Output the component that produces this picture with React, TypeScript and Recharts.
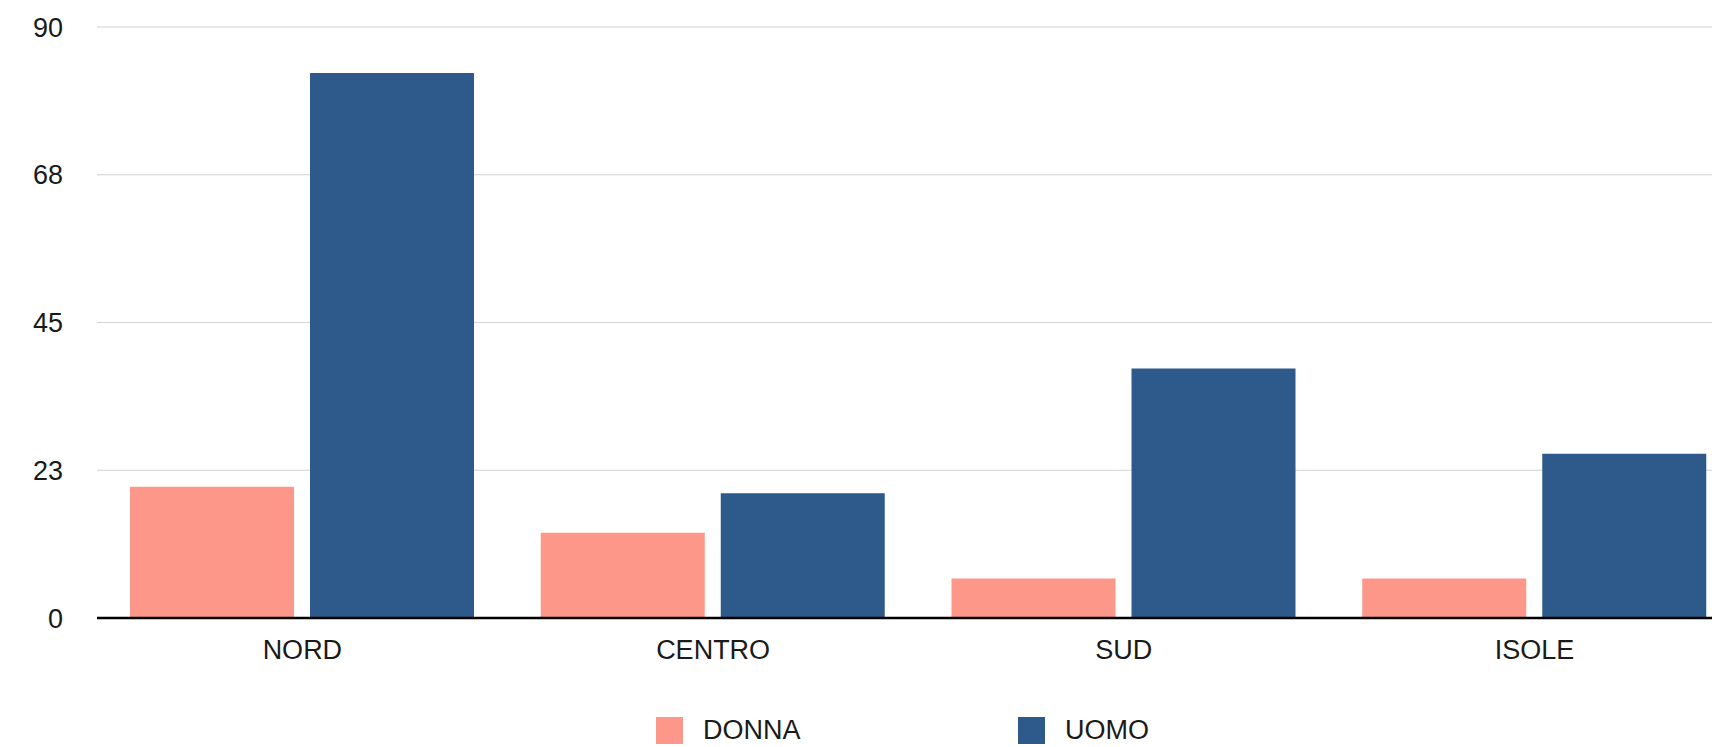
import React from 'react';
import { BarChart, Bar, XAxis, YAxis, CartesianGrid, Legend } from 'recharts';

// Regions on the category axis
const regions = ['NORD', 'CENTRO', 'SUD', 'ISOLE'];
// Values per series, one per region
const donna = [20, 13, 6, 6];
const uomo = [83, 19, 38, 25];
// Value axis ticks
const yTicks = [0, 22.5, 45, 67.5, 90];

const seriesNames = ['DONNA', 'UOMO'];
const seriesColors = ['#FC978A', '#2E5A8B'];

const data = regions.map((r, i) => ({ region: r, DONNA: donna[i], UOMO: uomo[i] }));

const FONT = '"Liberation Sans", Arial, Helvetica, sans-serif';
const TEXT = '#1a1a1a';

const renderLegend = () => (
  <div
    style={{
      display: 'flex',
      alignItems: 'center',
      paddingLeft: 656,
      height: 27,
      fontFamily: FONT,
      fontSize: 27,
      lineHeight: '27px',
      color: TEXT,
    }}
  >
    {seriesNames.map((name, i) => (
      <div key={name} style={{ display: 'flex', alignItems: 'center', width: 362 }}>
        <div style={{ width: 27, height: 27, background: seriesColors[i] }} />
        <span style={{ marginLeft: 20 }}>{name}</span>
      </div>
    ))}
  </div>
);

export default function App() {
  return (
    <div
      style={{
        position: 'absolute',
        left: 0,
        top: 0,
        width: 1712,
        height: 747,
        overflow: 'hidden',
        background: '#ffffff',
      }}
    >
      <BarChart
        width={1740}
        height={747}
        data={data}
        margin={{ top: 27, right: 0, bottom: 99, left: 0 }}
        barSize={164}
        barGap={16}
      >
        <CartesianGrid vertical={false} stroke="#d2d2d2" strokeWidth={1.2} />
        <XAxis
          dataKey="region"
          height={30}
          axisLine={{ stroke: '#000000', strokeWidth: 2.5 }}
          tickLine={false}
          tickSize={0}
          tickMargin={22}
          tick={{ fill: TEXT, fontSize: 27, fontFamily: FONT }}
        />
        <YAxis
          width={97}
          domain={[0, 90]}
          ticks={yTicks}
          interval={0}
          tickFormatter={(v: number) => String(Math.round(v))}
          axisLine={false}
          tickLine={false}
          tickSize={0}
          tickMargin={34}
          tick={{ fill: TEXT, fontSize: 27, fontFamily: FONT }}
        />
        <Legend
          layout="horizontal"
          verticalAlign="middle"
          align="center"
          content={renderLegend}
          wrapperStyle={{ left: 0, top: 716.5, width: 1740, height: 27 }}
        />
        {seriesNames.map((name, i) => (
          <Bar key={name} dataKey={name} fill={seriesColors[i]} isAnimationActive={false} />
        ))}
      </BarChart>
    </div>
  );
}
